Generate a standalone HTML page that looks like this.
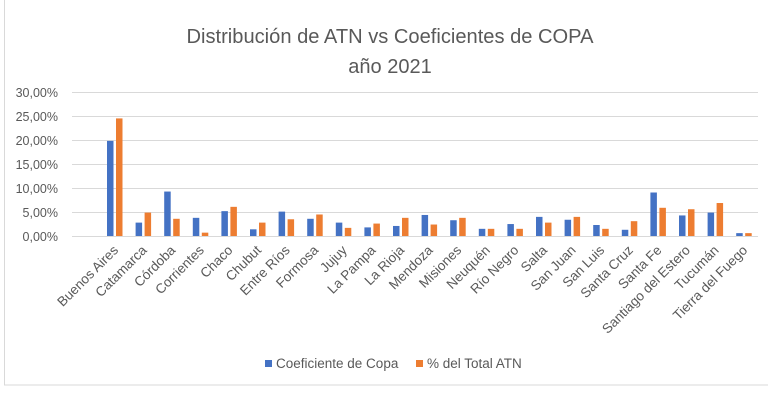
<!DOCTYPE html>
<html><head><meta charset="utf-8"><style>
html,body{margin:0;padding:0;background:#fff;}
svg{display:block;font-family:"Liberation Sans",sans-serif;}
</style></head><body>
<svg width="768" height="404" viewBox="0 0 768 404" xmlns="http://www.w3.org/2000/svg">
<rect x="0" y="0" width="768" height="404" fill="#fff"/>
<rect x="4.5" y="-2" width="770" height="387" fill="none" stroke="#d9d9d9" stroke-width="1"/>
<g fill="#595959">
<text x="390" y="43" font-size="20" text-anchor="middle" textLength="407" lengthAdjust="spacingAndGlyphs">Distribución de ATN vs Coeficientes de COPA</text>
<text x="390" y="73" font-size="20" text-anchor="middle">año 2021</text>
</g>
<g stroke="#d9d9d9" stroke-width="1">
<line x1="72" x2="758" y1="92.5" y2="92.5"/>
<line x1="72" x2="758" y1="116.5" y2="116.5"/>
<line x1="72" x2="758" y1="140.5" y2="140.5"/>
<line x1="72" x2="758" y1="164.5" y2="164.5"/>
<line x1="72" x2="758" y1="188.5" y2="188.5"/>
<line x1="72" x2="758" y1="212.5" y2="212.5"/>
<line x1="72" x2="758" y1="236.5" y2="236.5"/>
</g>
<g fill="#595959" font-size="12.5" text-anchor="end">
<text x="58" y="97">30,00%</text>
<text x="58" y="121">25,00%</text>
<text x="58" y="145">20,00%</text>
<text x="58" y="169">15,00%</text>
<text x="58" y="193">10,00%</text>
<text x="58" y="217">5,00%</text>
<text x="58" y="241">0,00%</text>
</g>
<g id="bars"></g>
<g id="labels" fill="#595959" font-size="13.5" text-anchor="end"></g>
<rect x="265" y="360" width="7" height="7" fill="#4472c4"/>
<text x="276" y="368" font-size="13.5" fill="#595959">Coeficiente de Copa</text>
<rect x="416" y="360" width="7" height="7" fill="#ed7d31"/>
<text x="427" y="368" font-size="13.5" fill="#595959">% del Total ATN</text>
<script>
var d=[["Buenos Aires",19.9,24.6],["Catamarca",2.8,4.9],["Córdoba",9.3,3.6],["Corrientes",3.8,0.7],["Chaco",5.2,6.1],["Chubut",1.4,2.8],["Entre Ríos",5.1,3.5],["Formosa",3.6,4.5],["Jujuy",2.8,1.7],["La Pampa",1.8,2.6],["La Rioja",2.1,3.8],["Mendoza",4.4,2.4],["Misiones",3.3,3.8],["Neuquén",1.5,1.5],["Río Negro",2.5,1.5],["Salta",4.0,2.8],["San Juan",3.4,4.0],["San Luis",2.3,1.5],["Santa Cruz",1.3,3.1],["Santa Fe",9.1,5.9],["Santiago del Estero",4.3,5.6],["Tucumán",4.9,6.9],["Tierra del Fuego",0.6,0.6]];
var ns="http://www.w3.org/2000/svg",b=document.getElementById("bars"),l=document.getElementById("labels");
d.forEach(function(r,i){var c=115+28.6*i;
[[r[1],"#4472c4",c-8],[r[2],"#ed7d31",c+1]].forEach(function(v){var h=v[0]*4.78,e=document.createElementNS(ns,"rect");
e.setAttribute("x",v[2]);e.setAttribute("y",236-h);e.setAttribute("width",6.5);e.setAttribute("height",h);e.setAttribute("fill",v[1]);b.appendChild(e);});
var t=document.createElementNS(ns,"text");t.setAttribute("transform","translate("+(c+4)+",251) rotate(-45)");t.textContent=r[0];l.appendChild(t);});
</script>
</svg>
</body></html>
